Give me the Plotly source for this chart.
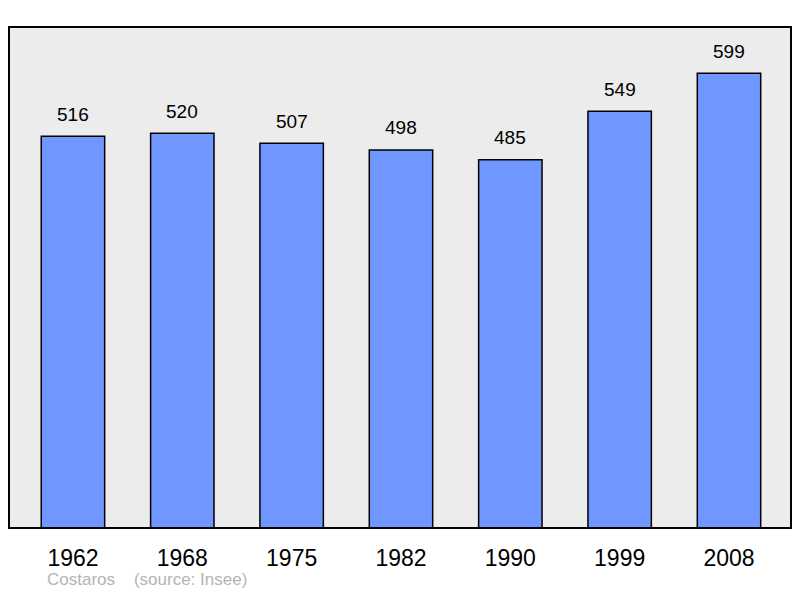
import plotly.graph_objects as go

years = ["1962", "1968", "1975", "1982", "1990", "1999", "2008"]
population = [516, 520, 507, 498, 485, 549, 599]

xpos = list(range(len(years)))

fig = go.Figure()

fig.add_trace(go.Bar(
    x=xpos, y=population, width=0.58,
    marker=dict(color="#7096ff", line=dict(color="black", width=1.5)),
    hoverinfo="skip",
))

# value labels above each bar
for xi, val in zip(xpos, population):
    fig.add_annotation(x=xi, y=val, text=str(val), showarrow=False,
                       yanchor="middle", yshift=22,
                       font=dict(family="Liberation Sans, Arial", size=19, color="black"))

# plot frame
fig.add_shape(type="rect", xref="paper", yref="paper", x0=0, y0=0, x1=1, y1=1,
              line=dict(color="black", width=2), layer="above")

fig.add_annotation(xref="paper", yref="paper", x=0.047, y=0, xanchor="left", yanchor="bottom",
                   yshift=-62, text="Costaros&nbsp;&nbsp;&nbsp;&nbsp;(source: Insee)", showarrow=False,
                   borderpad=0,
                   font=dict(family="Liberation Sans, Arial", size=17, color="#b4b4b4"))

# page body has an 8px margin, so the figure is 16px smaller than the window
fig.update_layout(
    width=784, height=582,
    margin=dict(l=1, r=1, t=19, b=62),
    paper_bgcolor="white", plot_bgcolor="#ececec",
    showlegend=False,
    xaxis=dict(range=[-0.585, 6.567], tickvals=xpos, ticktext=years,
               ticks="outside", ticklen=9, tickcolor="rgba(0,0,0,0)",
               tickfont=dict(family="Liberation Sans, Arial", size=23, color="black"),
               showgrid=False, zeroline=False, fixedrange=True),
    yaxis=dict(range=[0, 660], visible=False, showgrid=False, fixedrange=True),
)

fig.write_html("out.html")
